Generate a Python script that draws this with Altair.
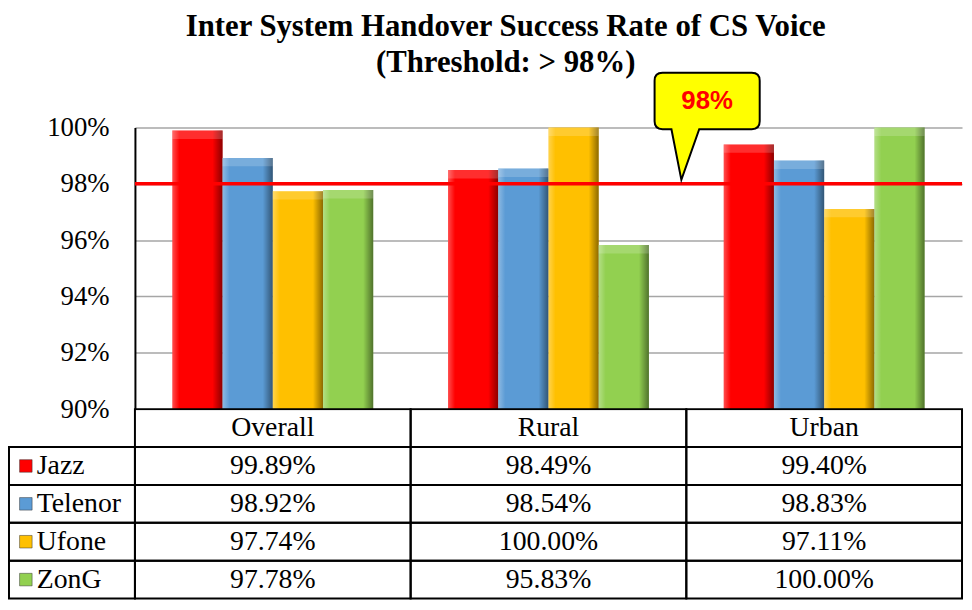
import altair as alt
import pandas as pd

# ---------------- data ----------------
categories = ["Overall", "Rural", "Urban"]
operators = ["Jazz", "Telenor", "Ufone", "ZonG"]
jazz = [99.89, 98.49, 99.40]
telenor = [98.92, 98.54, 98.83]
ufone = [97.74, 100.00, 97.11]
zong = [97.78, 95.83, 100.00]
colors = ["#FF0000", "#5B9BD5", "#FFC000", "#92D050"]
threshold = 98
y_ticks = [90, 92, 94, 96, 98, 100]
title_lines = ["Inter System Handover Success Rate of CS Voice", "(Threshold: > 98%)"]
header_row = "Category"

series = {"Jazz": jazz, "Telenor": telenor, "Ufone": ufone, "ZonG": zong}
rows = []
for op in operators:
    for cat, v in zip(categories, series[op]):
        rows.append({"cat": cat, "op": op, "value": v})
bars_df = pd.DataFrame(rows)

table_rows = [{"cat": c, "row": header_row, "label": c} for c in categories]
table_rows += [{"cat": r["cat"], "row": r["op"], "label": f"{r['value']:.2f}%"} for r in rows]
table_df = pd.DataFrame(table_rows)
names_df = pd.DataFrame({"row": operators, "op": operators})
thr_df = pd.DataFrame({"cat": ["Rural"], "thr": [threshold], "label": [f"{threshold}%"]})

# ---------------- styling ----------------
W = 834
H = 284
TH = 191
SERIF = "Liberation Serif"

x_scale = alt.Scale(domain=categories, paddingInner=0, paddingOuter=0)
y_scale = alt.Scale(domain=[90, 100], zero=False, nice=False)
color_scale = alt.Scale(domain=operators, range=colors)
off_scale = alt.Scale(domain=operators, paddingInner=0, paddingOuter=0.745)

x_enc = alt.X("cat:N", scale=x_scale, axis=None)
xo_enc = alt.XOffset("op:N", scale=off_scale)
y_enc = alt.Y(
    "value:Q",
    scale=y_scale,
    title=None,
    axis=alt.Axis(
        values=y_ticks,
        labelExpr="datum.value + '%'",
        grid=True,
        gridColor="#A6A6A6",
        gridWidth=1.5,
        domainColor="black",
        domainWidth=2,
        ticks=False,
        labelPadding=26,
        labelFontSize=27,
        labelFont=SERIF,
        labelColor="black",
    ),
)

bars = alt.Chart(bars_df).mark_bar().encode(
    x=x_enc,
    xOffset=xo_enc,
    y=y_enc,
    y2=alt.datum(90),
    color=alt.Color("op:N", scale=color_scale, legend=None),
)

bevel = alt.Chart(bars_df).mark_bar(
    fill=alt.Gradient(
        gradient="linear",
        x1=0, x2=1, y1=0, y2=0,
        stops=[
            alt.GradientStop(color="rgba(255,255,255,0.30)", offset=0),
            alt.GradientStop(color="rgba(255,255,255,0)", offset=0.14),
            alt.GradientStop(color="rgba(0,0,0,0)", offset=0.80),
            alt.GradientStop(color="rgba(0,0,0,0.45)", offset=1),
        ],
    )
).encode(x=x_enc, xOffset=xo_enc, y=y_enc, y2=alt.datum(90))

top_cap = alt.Chart(bars_df).transform_calculate(
    cap="datum.value - 0.3"
).mark_bar(fill="white", fillOpacity=0.18).encode(
    x=x_enc, xOffset=xo_enc, y=y_enc, y2="cap:Q"
)

rule = alt.Chart(thr_df).mark_rule(color="#FF0000", strokeWidth=3.5).encode(
    y=alt.Y("thr:Q", scale=y_scale, title=None)
)

callout_path = (
    "M -10 -55 L 0 -4 L 18 -55 L 71 -55 Q 79 -55 79 -63 L 79 -104 "
    "Q 79 -112 71 -112 L -19 -112 Q -27 -112 -27 -104 L -27 -63 "
    "Q -27 -55 -19 -55 Z"
)
callout = alt.Chart(thr_df).mark_point(
    shape=callout_path, size=4, filled=True, fill="#FFFF00", stroke="black",
    strokeWidth=2, opacity=1, fillOpacity=1, strokeOpacity=1,
).encode(
    x=alt.X("cat:N", scale=x_scale, axis=None, bandPosition=0.982),
    y=alt.Y("thr:Q", scale=y_scale, title=None),
)
callout_text = alt.Chart(thr_df).mark_text(
    dx=26, dy=-83, font="Liberation Sans", fontWeight="bold", fontSize=26,
    color="#FF0000", baseline="middle", align="center",
).encode(
    x=alt.X("cat:N", scale=x_scale, axis=None, bandPosition=0.982),
    y=alt.Y("thr:Q", scale=y_scale, title=None),
    text="label:N",
)

bars_chart = alt.layer(bars, bevel, top_cap, rule, callout, callout_text).properties(
    width=W, height=H
)

# ---------------- table ----------------
tx = alt.X("cat:N", scale=x_scale, axis=None)
ty = alt.Y("row:N", scale=alt.Scale(domain=[header_row] + operators, paddingInner=0, paddingOuter=0), axis=None)

cells = alt.Chart(table_df).mark_rect(fillOpacity=0, stroke="black", strokeWidth=2).encode(x=tx, y=ty)
texts = alt.Chart(table_df).mark_text(font=SERIF, fontSize=28, color="black").encode(
    x=tx, y=ty, text="label:N"
)
left_cells = alt.Chart(names_df).mark_rect(fillOpacity=0, stroke="black", strokeWidth=2).encode(
    x=alt.value(-127), x2=alt.value(0), y=ty
)
keys = alt.Chart(names_df).mark_point(
    shape="square", filled=True, size=160, opacity=1, stroke="#333333", strokeWidth=0.5
).encode(x=alt.value(-110), y=ty, color=alt.Color("op:N", scale=color_scale, legend=None))
names = alt.Chart(names_df).mark_text(
    align="left", font=SERIF, fontSize=28, color="black"
).encode(x=alt.value(-99), y=ty, text="op:N")

table = alt.layer(cells, left_cells, keys, names, texts).properties(width=W, height=TH)

chart = alt.vconcat(bars_chart, table, spacing=0, bounds="flush").properties(
    title=alt.TitleParams(
        text=title_lines, font=SERIF, fontSize=31, fontWeight="bold", lineHeight=36,
        anchor="middle", offset=-10, dx=20, color="black",
    ),
    padding={"left": 0, "top": 0, "right": 0, "bottom": 0},
    background="white",
).configure_view(stroke=None)

chart.save("out.html", embed_options={"renderer": "svg", "actions": False})
